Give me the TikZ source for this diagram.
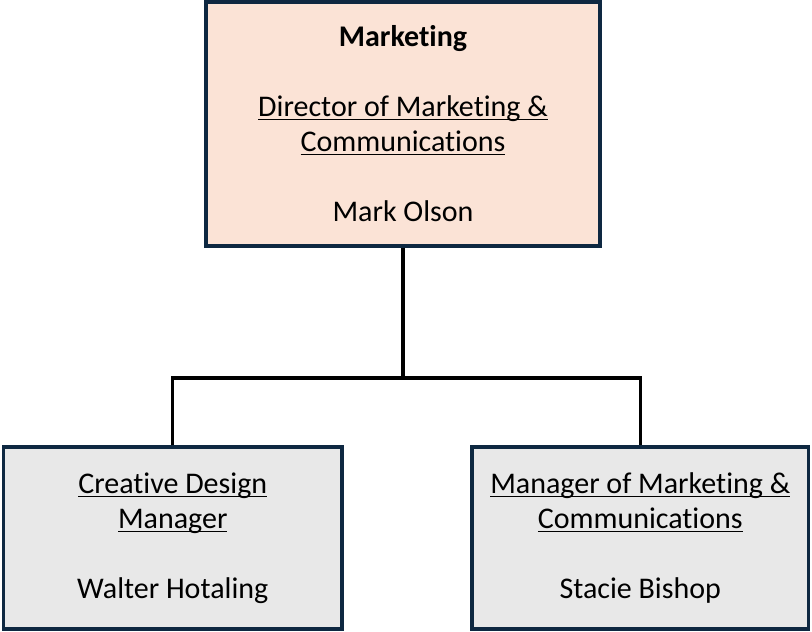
\documentclass[tikz,border=0pt]{standalone}
\usepackage{fontspec}
\setmainfont[Ligatures=NoCommon]{Carlito}
\definecolor{bordernavy}{HTML}{0E2841}
\definecolor{peach}{HTML}{FBE3D6}
\definecolor{boxgray}{HTML}{E8E8E8}
\newsavebox{\myulbox}
\newcommand{\myul}[1]{\sbox{\myulbox}{#1}\rlap{\rule[-3.5pt]{\wd\myulbox}{1.2pt}}\usebox{\myulbox}}
\begin{document}
\begin{tikzpicture}[x=1pt,y=-1pt,
  orgbox/.style={draw=bordernavy, line width=3.5pt, inner sep=0pt, align=center,
    font=\fontsize{30}{35}\selectfont},
  link/.style={draw=black, line width=3.2pt}]
\useasboundingbox (0,0) rectangle (812,632);
\node[orgbox, fill=peach, minimum width=394pt, minimum height=244pt] (top) at (403,124)
  {\textbf{Marketing}\\[35pt]\myul{Director of Marketing \&}\\\myul{Communications}\\[35pt]Mark Olson};
\node[orgbox, fill=boxgray, minimum width=338.5pt, minimum height=182pt] (left) at (172.75,538)
  {\myul{Creative Design}\\\myul{Manager}\\[35pt]Walter Hotaling};
\node[orgbox, fill=boxgray, minimum width=336.5pt, minimum height=182pt] (right) at (640.25,538)
  {\myul{Manager of Marketing \&}\\\myul{Communications}\\[35pt]Stacie Bishop};
\coordinate (bus) at (403,378);
\draw[link] (top.south) -- (bus);
\draw[link] (left.north) |- (bus) -| (right.north);
\end{tikzpicture}
\end{document}
